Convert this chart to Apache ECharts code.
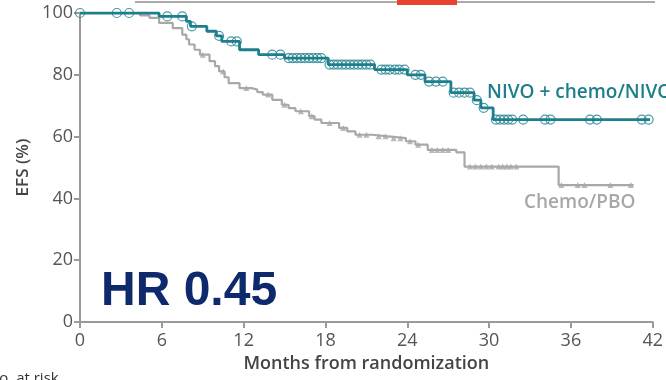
<!DOCTYPE html>
<html>
<head>
<meta charset="utf-8">
<script src="https://cdn.jsdelivr.net/npm/echarts@6/dist/echarts.min.js"></script>
<style>
    html, body { margin: 0; padding: 0; background: #fff; }
    #chart { width: 666px; height: 380px; }
</style>
</head>
<body>
<div id="chart"></div>
<script>
// step points of each KM curve: [month, EFS % after the drop]
const nivoSteps = [
    [0, 100], [5.8, 98.9], [7.8, 97.3], [8.1, 95.7], [9.3, 94.1], [10.0, 92.6], [10.4, 90.8],
    [11.7, 88.1], [13.1, 86.5], [15.0, 85.4], [18.2, 83.3], [21.6, 81.7], [24.0, 80.0],
    [25.3, 77.8], [27.2, 74.2], [28.9, 71.8], [29.4, 69.3], [30.3, 65.5], [41.8, 65.5]
]
const chemoSteps = [
    [0, 100], [4.4, 99.2], [5.1, 98.4], [5.8, 96.8], [6.8, 95.1], [7.5, 93.0], [7.8, 91.5],
    [8.0, 89.8], [8.4, 88.1], [8.8, 86.5], [9.5, 84.4], [9.9, 82.8], [10.2, 81.1], [10.6, 79.2],
    [10.9, 77.3], [11.7, 75.7], [12.6, 75.2], [13.0, 74.4], [13.4, 73.6], [14.1, 71.9],
    [14.8, 70.3], [15.3, 69.2], [15.8, 68.2], [16.8, 66.6], [17.2, 65.5], [17.7, 64.4],
    [19.0, 62.8], [19.6, 61.7], [20.2, 60.6], [21.4, 60.1], [22.6, 59.5], [23.9, 58.5],
    [24.6, 57.4], [25.5, 55.7], [27.6, 54.9], [28.2, 50.3], [35.1, 44.3], [40.6, 44.3]
]

// censored patients (months)
const nivoCensor = [
    0, 2.7, 3.6, 6.4, 7.5, 8.2, 10.2, 11.1, 11.5, 14.1, 14.7, 15.3, 15.6, 15.9, 16.2, 16.5,
    16.8, 17.1, 17.4, 17.7, 18.3, 18.6, 18.9, 19.2, 19.5, 19.8, 20.1, 20.4, 20.7, 21.0, 21.3,
    22.1, 22.4, 22.7, 23.1, 23.4, 23.8, 24.6, 25.0, 25.6, 26.1, 26.6, 27.4, 27.8, 28.2, 28.6,
    29.1, 29.6, 30.5, 30.8, 31.1, 31.4, 31.7, 32.5, 34.1, 34.5, 37.4, 37.9, 41.2, 41.7
]
const chemoCensor = [
    9.0, 10.5, 12.2, 13.8, 15.0, 16.2, 17.0, 18.3, 19.3, 20.5, 21.0, 21.9, 22.4, 23.0, 23.5,
    24.2, 24.8, 25.8, 26.2, 26.6, 27.0, 28.6, 29.0, 29.4, 29.8, 30.2, 30.7, 31.0, 31.3,
    31.6, 32.0, 35.3, 36.5, 37.0, 38.9, 40.4
]

const xTicks = [0, 6, 12, 18, 24, 30, 36, 42]
const yTicks = [0, 20, 40, 60, 80, 100]

const teal = '#1d7f8d'
const grey = '#a8a8a8'
const axisGrey = '#9a9a9a'
const font = '"Open Sans", "DejaVu Sans", sans-serif'

// y value of a step curve at time t
function survAt(steps, t) {
    let v = steps[0][1]
    steps.forEach(p => { if (p[0] <= t) v = p[1] })
    return v
}

let chart = echarts.init(document.querySelector('#chart'))

chart.setOption({
    animation: false,
    grid: { left: 80, right: 11, top: 13, bottom: 58 },
    xAxis: {
        type: 'value',
        min: xTicks[0],
        max: xTicks[xTicks.length - 1],
        interval: 6,
        name: 'Months from randomization',
        nameLocation: 'middle',
        nameGap: 33,
        nameTextStyle: { color: '#444', fontSize: 18, fontWeight: 600, fontFamily: font },
        axisLine: { lineStyle: { color: axisGrey, width: 2 } },
        axisTick: { length: 6, lineStyle: { color: axisGrey, width: 2 } },
        axisLabel: { color: '#555', fontSize: 18, fontFamily: font, margin: 10 },
        splitLine: { show: false }
    },
    yAxis: {
        type: 'value',
        min: yTicks[0],
        max: yTicks[yTicks.length - 1],
        interval: 20,
        name: 'EFS (%)',
        nameLocation: 'middle',
        nameGap: 48,
        nameTextStyle: { color: '#444', fontSize: 17, fontWeight: 600, fontFamily: font },
        axisLine: { show: true, lineStyle: { color: axisGrey, width: 2 } },
        axisTick: { show: true, length: 6, lineStyle: { color: axisGrey, width: 2 } },
        axisLabel: { color: '#555', fontSize: 18, fontFamily: font, margin: 7 },
        splitLine: { show: false }
    },
    series: [
        {
            name: 'Chemo/PBO',
            type: 'line',
            step: 'end',
            showSymbol: false,
            data: chemoSteps,
            lineStyle: { color: grey, width: 2.2 },
            z: 2
        },
        {
            type: 'scatter',
            symbol: 'triangle',
            symbolSize: 6,
            itemStyle: { color: grey },
            data: chemoCensor.map(t => [t, survAt(chemoSteps, t)]),
            z: 2
        },
        {
            name: 'NIVO + chemo/NIVO',
            type: 'line',
            step: 'end',
            showSymbol: false,
            data: nivoSteps,
            lineStyle: { color: teal, width: 2.8 },
            z: 3
        },
        {
            type: 'scatter',
            symbol: 'circle',
            symbolSize: 9,
            itemStyle: { color: 'rgba(255,255,255,0)', borderColor: teal, borderWidth: 1.2 },
            data: nivoCensor.map(t => [t, survAt(nivoSteps, t)]),
            z: 3
        }
    ],
    graphic: [
        // bits of the slide above the plot
        { type: 'line', shape: { x1: 135, y1: 2, x2: 655, y2: 2 }, style: { stroke: '#aaa', lineWidth: 2 } },
        { type: 'rect', shape: { x: 397, y: 0, width: 60, height: 5 }, style: { fill: '#e8432e' } },
        {
            type: 'text', left: 487, top: 83,
            style: { text: 'NIVO + chemo/NIVO', fill: teal, font: '600 19px ' + font }
        },
        {
            type: 'text', left: 524, top: 193,
            style: { text: 'Chemo/PBO', fill: grey, font: '600 19px ' + font }
        },
        {
            type: 'text', left: 101, top: 268,
            style: { text: 'HR 0.45', fill: '#0e2a6c', font: 'bold 48px "Liberation Sans", Arial, sans-serif' }
        },
        {
            type: 'text', left: -12, top: 371,
            style: { text: 'No. at risk', fill: '#333', font: '15px ' + font }
        }
    ]
})
</script>
</body>
</html>
